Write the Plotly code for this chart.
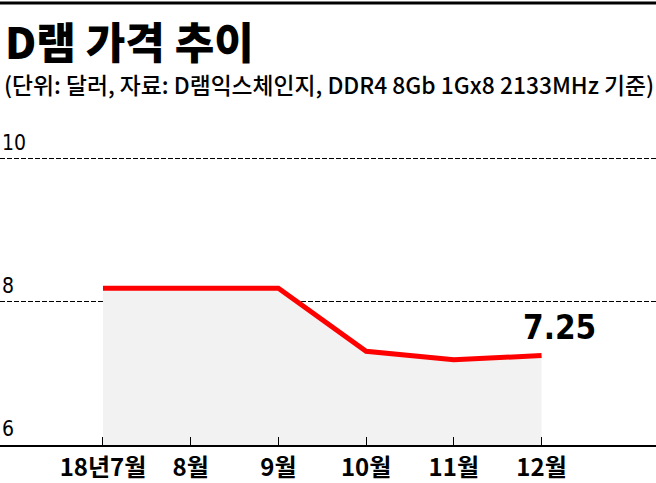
import plotly.graph_objects as go

months = ["18년7월", "8월", "9월", "10월", "11월", "12월"]
prices = [8.19, 8.19, 8.19, 7.31, 7.19, 7.25]
y_ticks = [6, 8, 10]
title_text = "D램 가격 추이"
subtitle_text = "(단위: 달러, 자료: D램익스체인지, DDR4 8Gb 1Gx8 2133MHz 기준)"

W, H = 656, 483
ML, MR, MT, MB = 0, 0, 123, 34
ph = H - MT - MB

def py(px):
    return (H - MB - px) / ph

KR = "Noto Sans CJK KR"
NUM = "DejaVu Sans Condensed, Liberation Sans Narrow, Noto Sans CJK KR"

fig = go.Figure()
fig.add_trace(go.Scatter(
    x=months, y=prices, mode="lines",
    line=dict(color="#ff0000", width=5),
    fill="tozeroy", fillcolor="#f2f2f2",
    hoverinfo="skip",
))

annotations = []
for v in y_ticks:
    annotations.append(dict(
        x=0, xref="paper", y=v, yref="y", text=str(v), showarrow=False,
        xanchor="left", yanchor="bottom", yshift=2,
        font=dict(family=NUM, size=21, color="#000"),
    ))
annotations.append(dict(
    x=months[-1], y=prices[-1], xref="x", yref="y",
    text=f"{prices[-1]:.2f}", showarrow=False,
    xanchor="center", yanchor="bottom", xshift=18, yshift=7,
    font=dict(family=NUM, size=33, color="#000", weight="bold"),
))
annotations.append(dict(
    x=0.005, xref="paper", y=py(39), yref="paper", text=title_text,
    showarrow=False, xanchor="left", yanchor="middle",
    font=dict(family=KR, size=43, color="#000", weight=900),
))
annotations.append(dict(
    x=0.003, xref="paper", y=py(84), yref="paper", text=subtitle_text,
    showarrow=False, xanchor="left", yanchor="middle",
    font=dict(family=KR, size=22.8, color="#000", weight=500),
))

fig.update_layout(
    width=W, height=H,
    margin=dict(l=ML, r=MR, t=MT, b=MB, pad=0),
    paper_bgcolor="white", plot_bgcolor="white",
    showlegend=False,
    annotations=annotations,
    shapes=[dict(type="rect", xref="paper", yref="paper", x0=0, x1=1,
                 y0=py(0), y1=py(3), fillcolor="#000", line=dict(width=0))],
    xaxis=dict(
        type="category", range=[-1.174, 6.305],
        showgrid=False, zeroline=False,
        showline=True, linecolor="#000", linewidth=2,
        ticks="inside", ticklen=8, tickcolor="#000", tickwidth=1,
        tickfont=dict(family=KR, size=24, color="#000", weight="bold"),
        fixedrange=True,
    ),
    yaxis=dict(
        range=[6, 10.5], tickvals=y_ticks, showticklabels=False,
        showgrid=True, gridcolor="#000", gridwidth=1, griddash="5px,2px",
        zeroline=False, showline=False, fixedrange=True,
    ),
)

fig.write_html(
    "out.html",
    config={"displayModeBar": False},
    post_script="document.body.style.margin='0';document.body.style.overflow='hidden';",
)
